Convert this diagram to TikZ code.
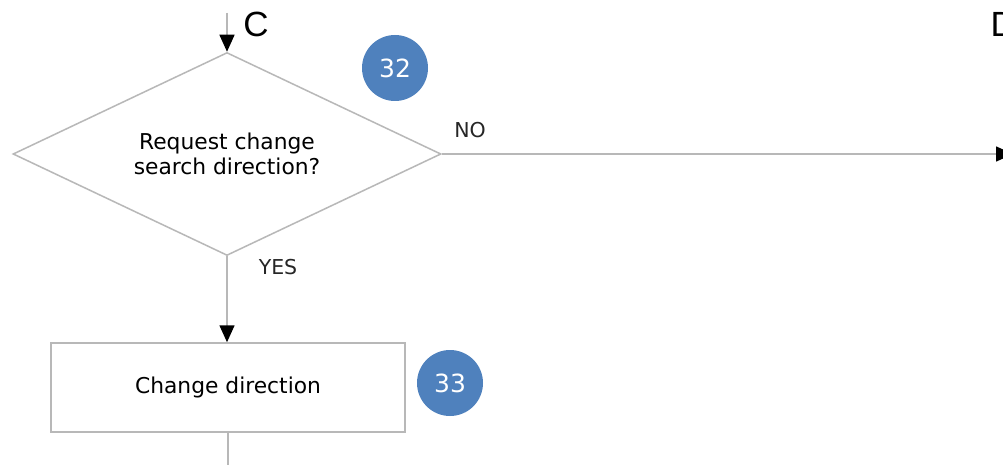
\documentclass[tikz,border=0pt]{standalone}
\usepackage{fontspec}
\setmainfont{DejaVu Sans}
\newfontfamily\letterfont{Liberation Sans}
\usetikzlibrary{shapes.geometric,arrows.meta}
\definecolor{flowline}{HTML}{B8B8B8}
\definecolor{stepblue}{HTML}{4F81BD}
\begin{document}
\begin{tikzpicture}[x=1pt,y=-1pt,
  flow/.style={draw=flowline,line width=1.5pt},
  arr/.style={flow,-{Triangle[length=17pt,width=15pt,fill=black,color=black]}},
  decision/.style={diamond,aspect=2.1,draw=flowline,line width=1.5pt,inner sep=0pt,
    minimum width=428pt,minimum height=203pt,align=center,
    font=\fontsize{21.8}{25.5}\selectfont},
  process/.style={rectangle,draw=flowline,line width=1.5pt,inner sep=0pt,
    minimum width=354pt,minimum height=89pt,
    font=\fontsize{21.8}{25.5}\selectfont},
  badge/.style={circle,fill=stepblue,text=white,minimum size=66pt,inner sep=0pt,
    font=\fontsize{25}{28}\selectfont},
  answer/.style={font=\fontsize{20.5}{24}\selectfont,text=black!85},
  connector/.style={font=\letterfont\fontsize{35}{40}\selectfont}]
  \clip (0,0) rectangle (1003,465);
  \fill[white] (0,0) rectangle (1003,465);

  % shapes
  \node[decision] (dec) at (227,154) {Request change\\search direction?};
  \node[process] (chg) at (228,387.5) {Change direction};
  \node[badge] (b32) at (395,68) {32};
  \node[badge] (b33) at (450,383) {33};

  % off-page connectors
  \coordinate (cin) at (227,13);
  \node[connector] (cC) at (256,24) {C};
  \node[connector,anchor=west] (cD) at (987,24) {D};
  \coordinate (dout) at (1013,154);
  \coordinate (bout) at (228,470);

  % flow lines
  \draw[arr] (cin) -- (dec.north);
  \draw[arr] (dec.east) -- (dout);
  \draw[arr] (dec.south) -- (chg.north -| dec.south);
  \draw[flow] (chg.south) -- (bout);

  % branch labels
  \node[answer] (no) at (470,130) {NO};
  \node[answer] (yes) at (278,267) {YES};
\end{tikzpicture}
\end{document}
